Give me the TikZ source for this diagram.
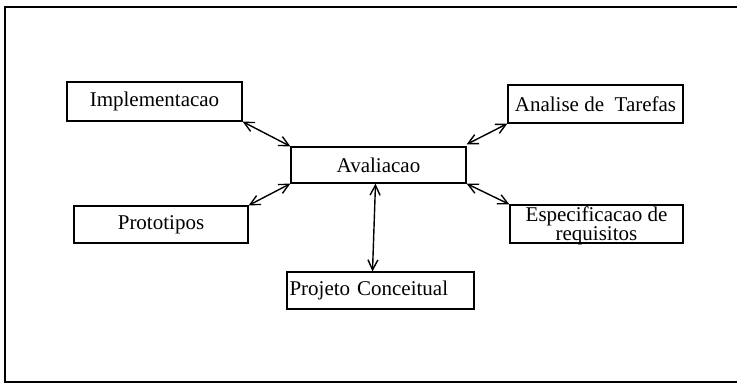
\documentclass[tikz,border=0pt]{standalone}
\usepackage{fontspec}
\setmainfont{Liberation Serif}
\usetikzlibrary{arrows.meta}
\begin{document}
\begin{tikzpicture}[x=1pt,y=-1pt,
  box/.style={draw,line width=1.3pt,rectangle,inner sep=0pt,
    font=\fontsize{21}{23}\selectfont},
  link/.style={line width=1.4pt,
    {Straight Barb[length=10pt,width=10pt]}-{Straight Barb[length=10pt,width=10pt]}},
  frame/.style={line width=1.1pt}]
\useasboundingbox (0,0) rectangle (737,383);
% outer frame (left, top and bottom rules)
\draw[frame] (737,7) -- (5,7) -- (5,382) -- (737,382);

% boxes
\node[box,minimum width=175pt,minimum height=39pt] (impl) at (154.5,101.5) {Implementacao};
\node[box,minimum width=175pt,minimum height=38pt] (anal) at (595.5,104) {Analise de\ \ Tarefas};
\node[box,minimum width=175pt,minimum height=36pt] (aval) at (378.5,165) {Avaliacao};
\node[box,minimum width=174pt,minimum height=37pt] (prot) at (161,224.5) {Prototipos};
\node[box,minimum width=173pt,minimum height=38pt] (espec) at (596.5,224) {};
\node[font=\fontsize{21}{11}\selectfont,align=center,inner sep=0pt]
  (espectext) at ([yshift=-2pt]espec.center) {Especificacao de\\requisitos};
\node[box,minimum width=187pt,minimum height=37pt,text width=182pt,align=left,
  inner xsep=2.5pt] (proj) at (380.5,290.5) {Projeto Conceitual};

% connectors
\draw[link] (impl.south east) -- (aval.north west);
\draw[link] (prot.north east) -- (aval.south west);
\draw[link] (anal.south west) -- ([yshift=2pt]aval.north east);
\draw[link] (espec.north west) -- (aval.south east);
\draw[link] ([xshift=-3pt]aval.south) -- ([xshift=-8pt]proj.north);
\end{tikzpicture}
\end{document}
